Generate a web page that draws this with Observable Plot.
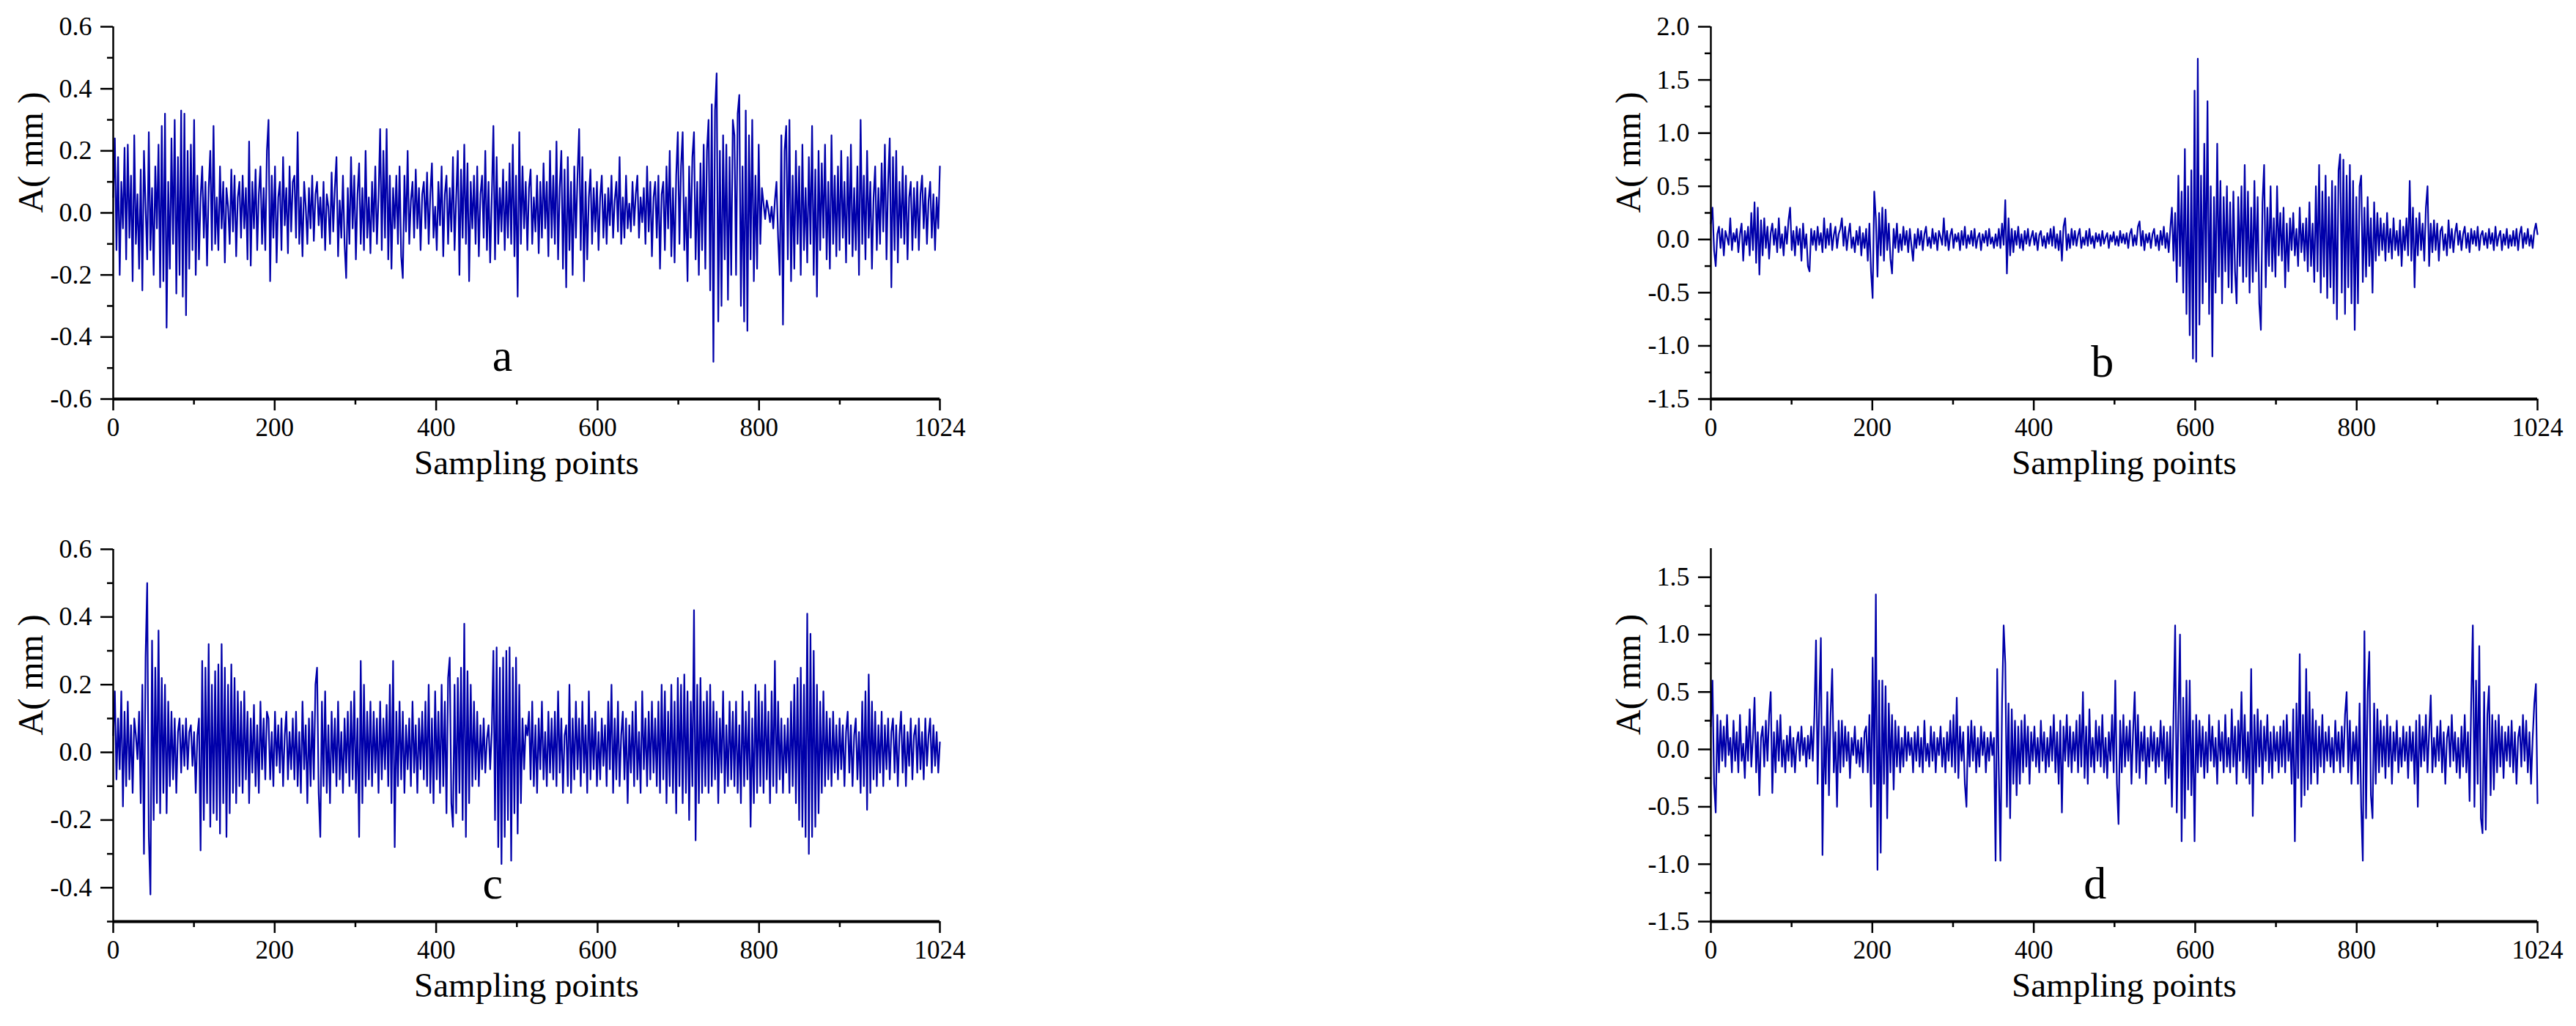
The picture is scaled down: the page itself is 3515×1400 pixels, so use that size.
<!DOCTYPE html>
<html>
<head>
<meta charset="utf-8">
<script src="https://cdn.jsdelivr.net/npm/d3@7"></script>
<script src="https://cdn.jsdelivr.net/npm/@observablehq/plot@0.6"></script>
<style>
  html, body { margin: 0; padding: 0; background: #fff; }
  #stage { position: relative; width: 3515px; height: 1400px; background: #fff; overflow: hidden; }
  #stage > div { position: absolute; }
</style>
</head>
<body>
<div id="stage"></div>
<script>
// ---------- data (amplitude in mm; every 2nd sampling point) ----------
const sampleRange = [0, 1024];

const ampA = [
  .05,.24,-.12,.18,-.2,.1,-.05,.21,-.15,.22,-.08,.12,-.22,.25,-.1,.06,
  -.18,.14,-.25,.2,.02,-.15,.26,-.12,.08,-.2,.15,-.05,.22,-.24,.28,-.22,
  .32,-.37,.1,-.18,.24,-.1,.3,-.26,.18,-.2,.33,-.27,.32,-.33,.2,-.18,
  .22,-.12,.3,-.2,.12,-.15,.05,.15,-.08,.1,-.17,.08,.2,-.12,.28,-.1,
  .05,-.12,.15,-.05,.1,-.16,.08,.02,-.1,.14,-.06,.12,-.14,.05,.1,-.08,
  .12,-.05,.08,-.15,.23,-.17,.1,-.05,.14,-.12,.06,.15,-.1,.08,-.12,.2,
  .3,-.22,.12,-.08,.15,-.16,.05,.1,-.12,.18,-.04,.08,-.13,.15,-.06,.1,
  .12,-.08,.26,-.1,.05,-.14,.1,.02,-.1,.08,-.05,.12,-.09,.06,.1,-.04,
  .05,-.08,.1,-.12,.06,.02,-.1,.13,-.06,.08,.18,-.14,.04,-.08,.12,-.1,
  -.21,.08,-.1,.18,-.05,.12,-.15,.06,.16,-.1,.08,-.12,.2,-.08,.05,-.13,
  .1,-.06,.15,-.1,.05,.27,-.12,.2,-.08,.27,-.15,.12,-.18,.08,-.05,.12,
  -.1,.15,-.14,-.21,.12,-.06,.2,-.1,.04,.1,-.08,.14,-.05,.08,-.12,.06,
  .1,-.05,.13,-.1,.06,.16,-.08,.02,-.12,.1,-.04,.15,-.14,.06,.12,-.1,
  .08,-.06,.18,-.12,.05,.2,-.2,.14,-.08,.22,-.1,.16,-.22,.1,-.05,.12,
  -.1,.15,-.14,.06,.12,-.08,.2,-.12,.1,-.16,.05,.28,-.15,.18,-.1,.08,
  -.06,.14,-.12,.1,-.08,.16,-.1,.22,-.14,.12,-.27,.26,-.1,.15,-.05,.1,
  -.12,.08,.14,-.1,.05,-.06,.12,-.13,.1,-.08,.16,-.05,.1,-.14,.2,-.08,
  .12,-.1,.23,-.15,.08,.2,-.18,.14,-.24,.18,-.12,.1,-.2,.15,-.08,.12,
  .27,-.12,.18,-.22,.1,-.15,.05,.14,-.1,.08,-.06,.1,-.12,.05,.12,-.08,
  .06,-.1,.08,-.04,.12,-.08,.04,.1,-.06,.18,-.1,.05,-.08,.12,-.05,.03,
  -.06,.1,-.04,.06,.12,-.08,.05,-.03,.08,-.1,.15,-.06,.1,-.14,.05,.1,
  -.08,.12,-.18,.06,.1,-.12,.15,-.05,.2,-.14,.08,-.16,.12,.26,-.1,.15,
  .26,-.12,.05,-.22,.15,-.08,.18,.26,-.15,.1,-.2,.16,-.12,.22,-.18,.2,
  .3,-.25,.35,-.48,.33,.45,-.35,.2,-.3,.25,-.15,.22,-.28,.18,-.2,.3,
  .25,-.2,.32,.38,-.3,.15,-.35,.33,-.38,.25,-.15,.3,-.22,.12,-.18,.22,
  -.1,.08,.03,-.02,.04,.01,-.03,.02,-.05,.04,.1,-.08,-.2,.25,-.36,.2,
  .28,-.15,.3,-.22,.12,-.18,.2,-.1,.15,-.2,.22,-.12,.08,-.16,.18,-.1,
  .28,-.2,.14,-.27,.2,-.12,.16,-.08,.22,-.15,.1,-.18,.25,-.1,.12,-.14,
  .15,-.12,.2,-.08,.1,-.16,.18,-.1,.22,-.14,.08,-.12,.15,-.2,.3,-.1,
  .12,-.15,.2,-.08,.1,-.18,.05,.15,-.12,.08,-.1,.16,-.06,.22,-.15,.1,
  .24,-.24,.18,-.12,.2,-.16,.1,-.08,.15,-.1,.12,-.15,.05,.1,-.12,.08,
  -.08,.1,-.12,.06,.12,-.05,.08,-.1,.04,.1,-.08,.06,-.12,.05,-.05,.15
];

const ampB = [
  .15,.3,-.1,-.25,.05,.12,-.08,.1,-.15,.08,.02,-.05,.2,-.1,.06,-.02,
  .1,-.12,.05,.15,-.2,.08,-.05,.12,-.15,.25,-.1,.35,-.22,.3,-.33,.18,
  -.15,.2,-.08,.12,-.18,.06,.15,-.05,.1,-.12,.2,-.08,.05,-.15,.12,-.04,
  .18,.3,-.1,.08,-.15,.12,-.05,.1,-.2,.15,-.08,.05,-.25,-.3,.1,-.05,
  .08,-.1,.12,-.05,.06,-.12,.2,-.08,.1,-.05,.15,-.1,.04,.12,-.08,.05,
  .1,.2,-.06,.12,-.1,.05,.15,-.08,.02,-.12,.08,-.05,.12,-.15,.06,-.08,
  .1,-.2,.15,-.3,-.55,.45,.2,-.35,.25,-.15,.3,-.2,.28,-.1,.15,-.18,
  -.32,.1,-.08,.15,-.12,.05,-.1,.12,-.05,.08,-.12,.1,-.06,-.2,.05,-.08,
  .1,-.05,.08,-.1,.05,.12,-.06,.02,-.08,.1,-.04,.06,-.1,.08,.02,-.05,
  .2,-.06,.08,-.1,.04,.1,-.08,.05,-.02,.06,-.1,.08,-.05,.12,-.08,.04,
  -.04,.08,-.06,.1,-.08,.02,.06,-.1,.05,-.03,.08,-.06,.1,-.04,.02,-.08,
  .05,-.06,.1,-.08,.15,-.05,.37,-.32,.2,-.15,.1,-.12,.08,-.05,.12,-.08,
  .05,-.1,.08,-.04,.1,-.06,.02,.08,-.05,.06,-.1,.04,.08,-.06,.03,-.08,
  .06,-.04,.1,-.06,.12,-.08,.05,-.1,.08,-.2,.12,.2,-.1,.05,-.08,.1,
  -.05,.08,-.06,.04,.1,-.08,.02,-.05,.08,-.06,.1,-.04,.03,-.08,.06,-.02,
  .05,-.06,.08,-.04,.02,.06,-.08,.04,-.02,.07,-.05,.03,-.06,.08,-.03,.05,
  -.04,.06,-.08,.05,.1,-.06,.04,-.05,.12,.17,-.06,.08,-.1,.05,-.03,.06,
  -.08,.05,.1,-.06,.04,-.1,.08,-.05,.12,-.08,.06,-.12,.1,.3,-.2,.25,
  -.4,.6,-.25,.45,-.5,.85,-.7,.5,-.9,.65,-1.12,1.4,-1.15,1.7,-.8,.6,
  -.6,.9,-.4,1.3,-.7,.5,-1.1,.4,-.5,.9,-.35,.55,-.6,.4,-.3,.5,
  -.45,.35,-.5,.45,-.3,-.6,.4,-.25,.5,-.4,.7,-.35,.45,-.5,.3,-.4,
  .55,-.3,.4,-.6,-.85,.35,.7,-.45,.3,-.25,.5,-.3,.2,-.35,.5,-.15,
  .25,-.2,.3,-.45,.15,-.3,.2,-.1,.25,-.15,.1,-.25,.3,-.12,.15,-.2,
  .2,-.3,.35,-.25,.15,-.4,.5,-.3,.7,-.5,.45,-.35,.6,-.55,.4,-.45,
  .55,-.6,.5,-.75,.65,.8,-.5,.75,-.7,.6,-.45,.7,-.6,.55,-.85,.4,
  -.6,.5,.6,-.4,.3,-.35,.4,-.25,.2,-.5,.35,-.2,.25,-.15,.2,-.1,
  .15,-.2,.25,-.12,.1,-.18,.2,-.1,.08,-.15,.18,-.25,.12,-.1,.2,-.15,
  .55,-.2,.3,-.45,.2,-.15,.25,-.1,.15,-.2,.3,.5,-.25,.15,-.12,.18,
  -.1,.15,-.2,.08,.12,-.1,.05,-.15,.18,-.08,.1,-.12,.06,.15,-.05,.08,
  -.1,.05,.12,-.08,.06,-.12,.1,-.04,.08,-.06,.12,-.1,.04,.08,-.05,.06,
  -.08,.1,-.04,.06,-.1,.12,-.06,.03,.08,-.1,.05,-.05,.1,-.08,.04,-.06,
  .08,-.06,.1,-.1,.05,.12,-.08,.06,-.04,.1,-.06,.04,-.08,.08,.15,.05
];

const ampC = [
  .05,.18,-.08,.1,-.05,.18,-.16,.12,-.1,.15,-.08,.08,-.12,.1,.05,-.02,
  .12,-.15,.2,-.3,.28,.5,-.25,-.42,.33,-.2,.25,-.15,.36,-.18,.22,-.12,
  .2,-.18,.15,-.1,.12,-.08,.1,-.12,.06,.1,-.06,.08,-.04,.1,-.05,.06,
  .08,-.04,.06,-.12,.05,.1,-.29,.27,-.2,.25,-.15,.32,-.22,.2,-.18,.24,
  -.2,.26,-.24,.32,-.15,.25,-.25,.2,-.18,.26,-.12,.22,-.15,.18,-.1,.15,
  -.12,.18,-.08,.12,-.15,.1,-.06,.14,-.1,.08,-.12,.15,-.05,.1,-.08,.12,
  .1,-.08,.06,-.1,.12,-.04,.08,-.06,.1,-.1,.05,.12,-.08,.06,-.05,.1,
  -.08,.12,-.1,.06,-.12,.15,-.05,.08,-.15,.1,-.1,.12,-.08,.2,.25,-.12,
  -.25,.15,-.1,.18,-.12,.08,-.15,.12,-.06,.1,-.1,.15,-.08,.06,-.12,.1,
  -.06,.12,-.1,.15,-.08,.18,-.12,.1,-.25,.27,-.15,.2,-.1,.12,-.08,.15,
  -.1,.12,-.06,.1,-.12,.15,-.08,.1,-.05,.14,-.1,.2,-.15,.27,-.28,.12,
  -.1,.15,-.08,.12,-.12,.08,-.05,.1,-.1,.15,-.06,.08,-.12,.1,-.05,.12,
  -.08,.15,-.1,.2,-.12,.1,-.15,.18,-.08,.12,-.12,.2,-.1,.15,-.18,.22,
  .28,-.15,-.22,.2,-.18,.22,-.12,.25,-.2,.38,-.25,.24,-.15,.2,-.1,.15,
  -.08,.12,-.1,.08,-.05,.1,-.06,.04,.08,-.05,.06,.3,-.2,.31,-.28,.25,
  -.33,.28,-.25,.3,-.2,.31,-.32,.25,-.18,.28,-.24,.2,-.15,.1,-.05,.08,
  .05,.12,-.08,.15,-.1,.08,-.12,.1,-.05,.15,-.08,.06,-.1,.12,-.06,.1,
  -.08,.12,-.1,.18,-.06,.1,-.12,.05,.08,-.1,.2,-.12,.1,-.08,.15,-.05,
  .1,-.1,.15,-.06,.08,-.12,.18,-.08,.1,-.05,.12,-.1,.06,-.08,.1,-.04,
  .08,-.1,.15,-.05,.2,-.12,.1,-.08,.15,-.1,.05,.12,-.08,.1,-.15,.08,
  -.06,.12,-.1,.15,-.08,.06,-.12,.18,-.05,.1,-.1,.12,-.08,.15,-.06,.1,
  -.1,.15,-.12,.2,-.08,.18,-.15,.12,-.1,.2,-.12,.15,-.18,.22,-.1,.2,
  -.15,.23,-.12,.18,-.2,.15,-.1,.42,-.26,.2,-.15,.22,-.12,.15,-.1,.18,
  -.12,.2,-.1,.15,-.08,.12,-.15,.1,-.06,.18,-.12,.08,-.1,.15,-.08,.12,
  -.1,.15,-.12,.08,-.15,.18,-.1,.12,-.08,.15,-.22,.1,-.15,.2,-.12,.18,
  -.1,.15,-.12,.2,-.08,.12,-.15,.18,-.1,.27,-.12,.15,-.08,.1,-.12,.08,
  -.06,.1,-.12,.15,-.1,.2,-.15,.22,-.2,.25,-.22,.2,-.25,.41,-.3,.35,
  -.25,.3,-.22,.2,-.18,.15,-.12,.18,-.1,.12,-.08,.1,-.1,.12,-.06,.08,
  -.08,.1,-.05,.08,-.1,.06,.12,-.06,.08,-.1,.05,.1,-.08,.06,-.12,.15,
  -.1,.18,-.17,.23,-.12,.15,-.08,.12,-.1,.08,-.06,.12,-.1,.08,-.05,.1,
  -.08,.06,.1,-.06,.08,-.1,.05,.12,-.06,.08,-.1,.06,-.04,.1,-.08,.05,
  .08,-.06,.1,-.05,.06,-.08,.1,-.04,.05,.1,-.06,.08,-.04,.06,-.06,.03
];

const ampD = [
  .2,.6,-.3,-.55,.3,-.2,.25,-.1,.2,-.15,.3,-.05,.1,-.2,.25,-.1,
  .15,-.2,.3,-.1,.05,-.25,.2,-.1,.35,-.15,.1,.45,-.2,.15,-.4,.1,
  .2,-.15,.25,-.1,.3,.5,-.38,.15,-.2,.25,-.1,.3,-.15,.08,-.2,.12,
  -.1,.2,-.15,.1,-.2,.05,.15,-.1,.2,-.05,.1,-.15,.12,-.08,.2,-.1,
  .3,.95,-.3,.4,.97,-.92,.2,-.3,.5,-.4,.3,.7,-.2,.15,-.5,.25,
  -.2,.25,-.15,.2,-.1,.15,-.25,.1,-.05,.2,-.12,.08,-.15,.1,-.2,.15,
  .2,-.2,.3,-.5,.8,-.3,1.35,-1.05,.6,-.9,.6,-.3,.55,-.6,.4,-.2,
  .3,-.35,.25,-.15,.2,-.2,.1,-.15,.2,-.1,.15,-.05,.1,-.2,.15,-.1,
  .2,-.15,.1,-.2,.25,-.1,.05,-.15,.2,-.1,.15,-.2,.1,-.05,.2,-.15,
  .1,-.2,.15,-.1,.25,-.15,.3,-.2,.45,-.25,.2,-.1,.15,-.3,-.5,.2,
  -.15,.25,-.1,.2,-.2,.1,-.15,.2,-.05,.15,-.2,.1,-.1,.15,-.05,.1,
  -.97,.7,-.2,-.97,.4,1.08,.75,-.5,.4,-.6,.35,-.3,.25,-.4,.2,-.3,
  .25,-.2,.3,-.15,.2,-.3,.15,-.1,.2,-.15,.1,-.2,.25,-.1,.15,-.2,
  .1,-.15,.2,-.1,.3,-.2,.15,-.3,.25,-.55,.2,-.1,.3,-.15,.2,-.2,
  .15,-.1,.25,-.2,.3,-.15,.5,-.25,.2,-.3,.35,-.15,.1,-.2,.25,-.1,
  .2,-.15,.3,-.2,.1,-.25,.15,-.1,.3,-.2,.6,-.3,-.65,.25,-.2,.3,
  -.15,.2,-.1,.25,-.3,.15,.5,-.2,.3,-.25,.15,-.1,.2,-.3,.1,-.15,
  .2,-.1,.15,-.2,.1,-.15,.25,-.1,.2,-.3,.15,-.25,.2,-.5,.3,1.08,
  -.55,.3,1.0,-.8,.45,-.6,.6,-.35,.6,-.4,.25,-.8,.3,-.2,.25,-.15,
  .2,-.25,.15,-.2,.3,-.1,.2,-.15,.1,-.3,.25,-.1,.15,-.2,.3,-.15,
  .1,-.2,.35,-.15,.2,-.3,.25,-.1,.5,-.2,.3,-.25,.15,-.3,.7,-.58,
  .3,-.2,.35,-.15,.25,-.3,.2,-.1,.3,-.2,.15,-.25,.2,-.1,.15,-.2,
  .2,-.15,.25,-.2,.3,-.1,.15,-.3,.35,-.8,.4,-.25,.83,-.5,.3,-.4,
  .7,-.35,.5,-.3,.35,-.2,.25,-.3,.2,-.15,.3,-.2,.15,-.1,.2,-.15,
  .1,-.2,.25,-.1,.15,-.2,.2,-.15,.3,.5,-.2,.25,-.3,.15,-.1,.2,
  -.3,.4,-.5,-.97,1.03,-.6,.5,.85,-.4,-.6,.4,-.3,.35,-.2,.25,-.15,
  .2,-.25,.3,-.15,.2,-.3,.15,-.1,.25,-.2,.1,-.15,.2,-.1,.15,-.25,
  .2,-.1,.15,-.3,.25,-.5,.3,-.15,.2,-.1,.3,-.2,.15,.47,-.2,.1,
  -.15,.2,-.1,.25,-.2,.15,-.3,.1,.2,-.15,.3,-.1,.15,-.2,.1,-.25,
  .2,-.15,.3,-.2,.15,-.45,.4,1.08,-.5,.6,-.3,.9,-.6,-.73,.5,-.7,
  .3,.55,-.4,.3,-.35,.25,-.2,.3,-.15,.2,-.25,.15,-.1,.2,-.15,.25,
  -.2,.15,-.3,.1,.2,-.15,.3,-.1,.25,-.2,.15,-.3,.1,.4,.57,-.47
];

// ---------- tick values & texts ----------
const xTicksMajor = [0, 200, 400, 600, 800, 1024];
const xTicksMinor = [100, 300, 500, 700, 900];
const yTicksSmallMajor = [0.6, 0.4, 0.2, 0, -0.2, -0.4, -0.6];
const yTicksSmallMinor = [0.5, 0.3, 0.1, -0.1, -0.3, -0.5];
const yTicksCMajor = [0.6, 0.4, 0.2, 0, -0.2, -0.4];
const yTicksBMajor = [2.0, 1.5, 1.0, 0.5, 0, -0.5, -1.0, -1.5];
const yTicksBMinor = [1.75, 1.25, 0.75, 0.25, -0.25, -0.75, -1.25];
const yTicksDMajor = [1.5, 1.0, 0.5, 0, -0.5, -1.0, -1.5];
const yTicksDMinor = [1.25, 0.75, 0.25, -0.25, -0.75, -1.25];
const panelLetters = ["a", "b", "c", "d"];
const xTitle = "Sampling points";
const yTitle = "A( mm )";

// ---------- layout ----------
const FONT = "'Liberation Serif', 'Times New Roman', serif";
const LINE_COLOR = "#0000aa";
const panels = [
  {values: ampA, letter: panelLetters[0], left: 0,    top: 0,   width: 1340, height: 690, mt: 36, mb: 146, domain: [-0.6, 0.6],  major: yTicksSmallMajor, minor: yTicksSmallMinor, letterX: 482, letterDy: -39},
  {values: ampB, letter: panelLetters[1], left: 2180, top: 0,   width: 1335, height: 690, mt: 36, mb: 146, domain: [-1.5, 2.0],  major: yTicksBMajor, minor: yTicksBMinor, letterX: 485, letterDy: -31},
  {values: ampC, letter: panelLetters[2], left: 0,    top: 700, width: 1340, height: 700, mt: 49, mb: 143, domain: [-0.5, 0.6],  major: yTicksCMajor, minor: yTicksSmallMinor, letterX: 470, letterDy: -32},
  {values: ampD, letter: panelLetters[3], left: 2180, top: 700, width: 1335, height: 700, mt: 48, mb: 143, domain: [-1.5, 1.75], major: yTicksDMajor, minor: yTicksDMinor, letterX: 476, letterDy: -32}
];

const stage = document.getElementById("stage");

for (const p of panels) {
  const n = p.values.length;
  const table = p.values.map((v, i) => ({x: i * (sampleRange[1] - sampleRange[0]) / (n - 1), y: v}));
  const chart = Plot.plot({
    width: p.width,
    height: p.height,
    marginLeft: 154,
    marginRight: p.width - 154 - 1128,
    marginTop: p.mt,
    marginBottom: p.mb,
    style: {fontFamily: FONT, background: "transparent", color: "#000", overflow: "visible"},
    x: {domain: sampleRange, label: null},
    y: {domain: p.domain, label: null},
    marks: [
      Plot.line(table, {x: "x", y: "y", stroke: LINE_COLOR, strokeWidth: 2.2}),
      Plot.ruleX([sampleRange[0]], {stroke: "#000", strokeWidth: 2.5}),
      Plot.ruleY([p.domain[0]], {stroke: "#000", strokeWidth: 4}),
      Plot.axisY({ticks: p.major, tickSize: 17, tickPadding: 12, strokeWidth: 2.5, fontSize: 36, tickFormat: d => d.toFixed(1), label: null}),
      Plot.axisY({ticks: p.minor, tickSize: 8, strokeWidth: 2.5, tickFormat: () => "", label: null}),
      Plot.axisX({ticks: xTicksMajor, tickSize: 16, tickPadding: 10, strokeWidth: 2.5, fontSize: 35, tickFormat: d => String(d), label: null}),
      Plot.axisX({ticks: xTicksMinor, tickSize: 8, strokeWidth: 2.5, tickFormat: () => "", label: null}),
      Plot.text([xTitle], {frameAnchor: "bottom", dy: 102, fontSize: 47, fill: "#000"}),
      Plot.text([yTitle], {frameAnchor: "left", dx: -112, rotate: -90, fontSize: 48, fill: "#000"}),
      Plot.text([{x: p.letterX, t: p.letter}], {x: "x", text: "t", frameAnchor: "bottom", dy: p.letterDy, fontSize: 62, fill: "#000"})
    ]
  });
  const holder = document.createElement("div");
  holder.style.left = p.left + "px";
  holder.style.top = p.top + "px";
  holder.appendChild(chart);
  stage.appendChild(holder);
}
</script>
</body>
</html>
